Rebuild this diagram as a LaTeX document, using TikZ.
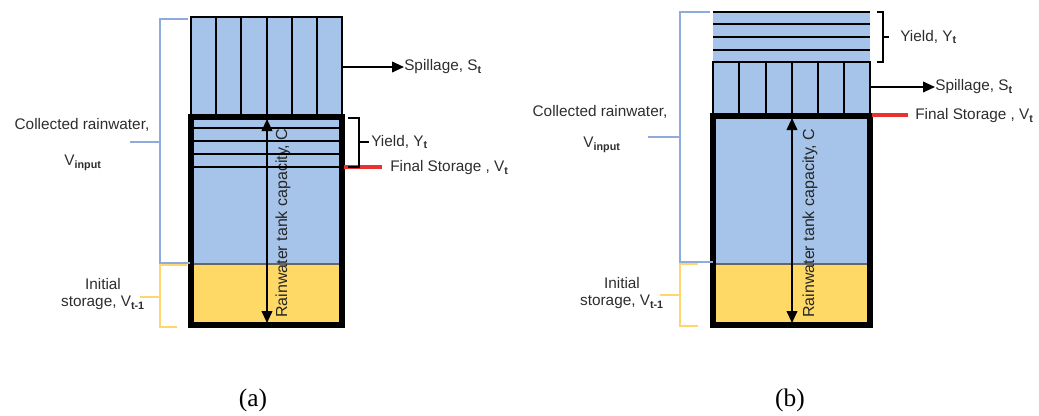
\documentclass[tikz,border=0pt]{standalone}
\usepackage{fontspec}
\setmainfont{Liberation Serif}
\setsansfont{Liberation Sans}
\usetikzlibrary{arrows.meta}
\definecolor{bluefill}{RGB}{166,196,234}
\definecolor{yellowfill}{RGB}{255,217,102}
\definecolor{bluebr}{RGB}{142,172,219}
\definecolor{yellowbr}{RGB}{255,214,110}
\definecolor{redline}{RGB}{232,50,50}
\definecolor{txtgray}{RGB}{45,45,45}
\tikzset{
  lbl/.style={font=\sffamily\fontsize{11.5}{13}\selectfont, text=txtgray, inner sep=0pt},
  rotlbl/.style={font=\sffamily\fontsize{12}{13}\selectfont, text=black!85, inner sep=0pt, rotate=90, anchor=west},
  captionlbl/.style={font=\rmfamily\fontsize{19}{21}\selectfont, inner sep=0pt},
  thinline/.style={line width=1.7pt, black},
  tankline/.style={line width=4.4pt, black},
  bluebracket/.style={line width=1.1pt, bluebr},
  yellowbracket/.style={line width=1.1pt, yellowbr},
  blkbracket/.style={line width=1.3pt, black},
  redmark/.style={line width=3.6pt, redline},
  spillarrow/.style={line width=1.3pt, black, -{Triangle[length=9pt,width=8pt]}},
  caparrow/.style={line width=1.3pt, black, {Triangle[length=9pt,width=8pt]}-{Triangle[length=9pt,width=8pt]}}
}
\newcommand{\sub}[1]{\textsubscript{\bfseries #1}}
\begin{document}
\begin{tikzpicture}[x=0.75pt,y=-0.75pt]
\useasboundingbox (0,0) rectangle (1039,415);

% ================= Panel (a) =================
\fill[bluefill] (191,17) rectangle (342,264);
\fill[yellowfill] (191,264) rectangle (342,325);
\draw[line width=0.8pt, black!60] (191,264) -- (342,264);
% spillage box
\draw[thinline] (191,17) rectangle (342,117);
\foreach \x in {216,241,267,292,317} \draw[thinline] (\x,17) -- (\x,117);
% capacity label
\node[rotlbl] (capA) at (283,318) {Rainwater tank capacity, C};
% yield lines
\foreach \y in {128,141,154,167} \draw[thinline] (191,\y) -- (342,\y);
% arrow
\coordinate (aTop) at (267,119);
\coordinate (aBot) at (267,323);
\draw[caparrow] (aTop) -- (aBot);
% tank
\draw[tankline] (191,117) rectangle (342,325);

% left brackets (a)
\draw[bluebracket] (188,19) -- (160,19) -- (160,263) -- (190,263);
\coordinate (aBlueMid) at (160,142);
\coordinate (aBlueTick) at (130,142);
\draw[bluebracket] (aBlueTick) -- (aBlueMid);
\draw[yellowbracket] (187,265) -- (160,265) -- (160,327) -- (177,327);
\coordinate (aYelMid) at (160,297);
\coordinate (aYelTick) at (140,297);
\draw[yellowbracket] (aYelTick) -- (aYelMid);
\node[lbl] (aColl) at (82,125) {Collected rainwater,};
\node[lbl] (aVin) at (83,163) {V\sub{input}};
\node[lbl] (aInit) at (103,284) {Initial};
\node[lbl] (aStor) at (103,303) {storage, V\sub{t-1}};

% right labels (a)
\coordinate (aSpillStart) at (342,67);
\node[lbl, anchor=west] (aSpill) at (404,67) {Spillage, S\sub{t}};
\draw[spillarrow] (aSpillStart) -- (aSpill.west);
\draw[redmark] (344,167) -- (382,167);
\node[lbl, anchor=west] (aFinal) at (390,168) {Final Storage , V\sub{t}};
\draw[blkbracket] (348,118) -- (359,118) -- (359,167) -- (348,167);
\coordinate (aYMid) at (359,142);
\node[lbl, anchor=west] (aYield) at (371,142) {Yield, Y\sub{t}};
\draw[blkbracket] (aYMid) -- (369,142);

\node[captionlbl] (capa) at (253,400) {(a)};

% ================= Panel (b) =================
\fill[bluefill] (713,12) rectangle (870,264);
\fill[yellowfill] (713,264) rectangle (870,325);
\draw[line width=0.8pt, black!60] (713,264) -- (870,264);
% yield lines
\draw[line width=1.4pt] (713,12) -- (870,12);
\foreach \y in {24,37,50} \draw[line width=2pt] (713,\y) -- (870,\y);
% spillage box
\draw[thinline] (713,62) rectangle (870,116);
\foreach \x in {739,766,792,818,844} \draw[thinline] (\x,62) -- (\x,116);
% capacity label
\node[rotlbl] (capB) at (810,318) {Rainwater tank capacity, C};
% arrow
\coordinate (bTop) at (792,118);
\coordinate (bBot) at (792,323);
\draw[caparrow] (bTop) -- (bBot);
% tank
\draw[tankline] (713,116) rectangle (870,325);

% left brackets (b)
\draw[bluebracket] (710,12) -- (680,12) -- (680,262) -- (713,262);
\coordinate (bBlueMid) at (680,137);
\coordinate (bBlueTick) at (648,137);
\draw[bluebracket] (bBlueTick) -- (bBlueMid);
\draw[yellowbracket] (698,264) -- (680,264) -- (680,326) -- (698,326);
\coordinate (bYelMid) at (680,295);
\coordinate (bYelTick) at (660,295);
\draw[yellowbracket] (bYelTick) -- (bYelMid);
\node[lbl] (bColl) at (600,112) {Collected rainwater,};
\node[lbl] (bVin) at (602,145) {V\sub{input}};
\node[lbl] (bInit) at (622,283) {Initial};
\node[lbl] (bStor) at (622,302) {storage, V\sub{t-1}};

% right labels (b)
\draw[blkbracket] (877,12) -- (883,12) -- (883,62) -- (877,62);
\coordinate (bYMid) at (883,37);
\node[lbl, anchor=west] (bYield) at (900,37) {Yield, Y\sub{t}};
\draw[blkbracket] (bYMid) -- (889,37);
\coordinate (bSpillStart) at (870,87);
\node[lbl, anchor=west] (bSpill) at (935,87) {Spillage, S\sub{t}};
\draw[spillarrow] (bSpillStart) -- (bSpill.west);
\draw[redmark] (872,115) -- (908,115);
\node[lbl, anchor=west] (bFinal) at (915,116) {Final Storage , V\sub{t}};

\node[captionlbl] (capb) at (790,400) {(b)};
\end{tikzpicture}
\end{document}
